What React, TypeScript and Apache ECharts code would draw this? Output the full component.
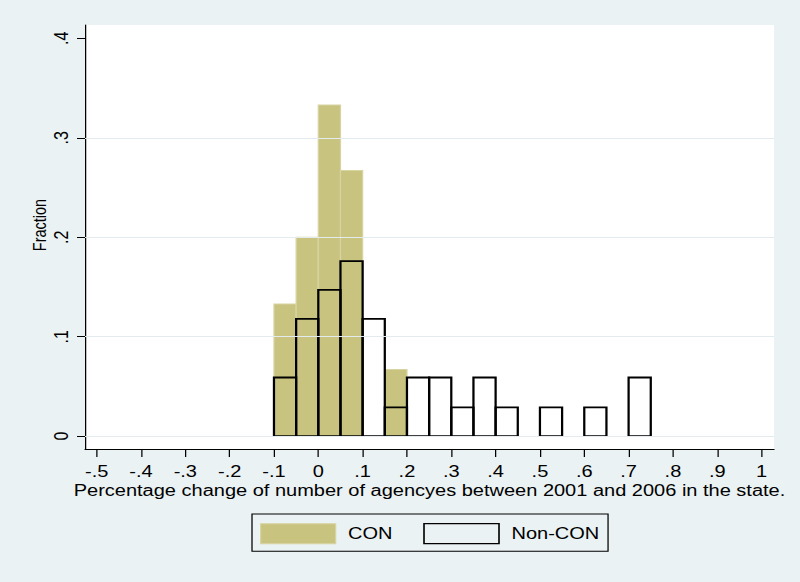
import React, { useEffect, useRef } from "react";
import * as echarts from "echarts";

// ---- data ----
const binStarts = [-0.1, -0.05, 0, 0.05, 0.1, 0.15, 0.2, 0.25, 0.3, 0.35, 0.4, 0.45, 0.5, 0.55, 0.6, 0.65, 0.7];
const binWidth = 0.05;
const conFraction = [0.133, 0.2, 0.333, 0.267, 0, 0.067, 0, 0, 0, 0, 0, 0, 0, 0, 0, 0, 0];
const nonConFraction = [0.059, 0.118, 0.147, 0.176, 0.118, 0.029, 0.059, 0.059, 0.029, 0.059, 0.029, 0, 0.029, 0, 0.029, 0, 0.059];
const seriesNames = ["CON", "Non-CON"];

const xTickValues = [-0.5, -0.4, -0.3, -0.2, -0.1, 0, 0.1, 0.2, 0.3, 0.4, 0.5, 0.6, 0.7, 0.8, 0.9, 1];
const xTickLabels = ["-.5", "-.4", "-.3", "-.2", "-.1", "0", ".1", ".2", ".3", ".4", ".5", ".6", ".7", ".8", ".9", "1"];
const yTickValues = [0, 0.1, 0.2, 0.3, 0.4];
const yTickLabels = ["0", ".1", ".2", ".3", ".4"];
const yGridValues = [0, 0.1, 0.2, 0.3];

const xTitle = "Percentage change of number of agencyes between 2001 and 2006 in the state.";
const yTitle = "Fraction";

// axis extents (plot region padding like Stata)
const xRange = [-0.5263, 1.028];
const yRange = [-0.0129, 0.4134];

// The reference's text is stretched horizontally; reproduce by scaling the chart in x.
const SX = 1.25;
const W = 800;
const H = 582;
const h = (px: number) => px / SX; // horizontal px in unscaled chart space

const FONT = "'Liberation Sans', Arial, Helvetica, sans-serif";
const FS = 16;
const BG = "#EAF2F3";
const CON_FILL = "#C8C37F";
const CON_EDGE = "#D8D4A2";

function lookup(values: number[], labels: string[], v: number) {
  const i = values.findIndex((t) => Math.abs(t - v) < 1e-9);
  return i >= 0 ? labels[i] : "";
}

function histItem(fill: string, stroke: string, lineWidth: number) {
  return (params: any, api: any) => {
    const x0 = api.value(0);
    const x1 = api.value(1);
    const y = api.value(2);
    if (!y) return null;
    const pTop = api.coord([x0, y]);
    const pBot = api.coord([x1, 0]);
    return {
      type: "rect",
      shape: { x: pTop[0], y: pTop[1], width: pBot[0] - pTop[0], height: pBot[1] - pTop[1] },
      style: { fill, stroke, lineWidth },
    };
  };
}

export default function App() {
  const ref = useRef<HTMLDivElement>(null);

  useEffect(() => {
    document.body.style.margin = "0";
    if (!ref.current) return;
    const chart = echarts.init(ref.current, null, { renderer: "svg" });

    const conData = binStarts.map((s, i) => [s, s + binWidth, conFraction[i]]);
    const nonConData = binStarts.map((s, i) => [s, s + binWidth, nonConFraction[i]]);

    chart.setOption({
      animation: false,
      backgroundColor: BG,
      textStyle: { fontFamily: FONT, color: "#000" },
      grid: {
        left: h(85),
        right: h(26),
        top: 25,
        bottom: 133,
        show: true,
        backgroundColor: "#ffffff",
        borderWidth: 0,
        containLabel: false,
      },
      xAxis: {
        type: "value",
        min: xRange[0],
        max: xRange[1],
        name: xTitle,
        nameLocation: "middle",
        nameGap: 34,
        nameMoveOverlap: false,
        nameTextStyle: { fontFamily: FONT, fontSize: FS, color: "#000" },
        axisLine: { show: true, onZero: false, lineStyle: { color: "#000", width: 1 } },
        axisTick: { show: true, length: 8, customValues: xTickValues, lineStyle: { color: "#000", width: 1 } },
        axisLabel: {
          customValues: xTickValues,
          margin: 15,
          fontFamily: FONT,
          fontSize: FS,
          color: "#000",
          formatter: (v: number) => lookup(xTickValues, xTickLabels, v),
        },
        splitLine: { show: false },
      },
      yAxis: {
        type: "value",
        min: yRange[0],
        max: yRange[1],
        name: yTitle,
        nameLocation: "middle",
        nameGap: 29,
        nameRotate: 90,
        nameMoveOverlap: false,
        nameTextStyle: { fontFamily: FONT, fontSize: 14.5, color: "#000", padding: [0, 0, 0, 24] },
        axisLine: { show: true, onZero: false, lineStyle: { color: "#000", width: 1 } },
        axisTick: { show: true, length: h(8), customValues: yTickValues, lineStyle: { color: "#000", width: 1 } },
        axisLabel: {
          customValues: yTickValues,
          rotate: 90,
          margin: 11,
          fontFamily: FONT,
          fontSize: FS,
          color: "#000",
          formatter: (v: number) => lookup(yTickValues, yTickLabels, v),
        },
        splitLine: { show: false },
      },
      legend: {
        show: true,
        left: h(252),
        top: 514,
        orient: "horizontal",
        itemWidth: h(75),
        itemHeight: 20,
        itemGap: 24.5,
        padding: [9, 7, 7, h(8)],
        borderColor: "#000",
        borderWidth: 1,
        backgroundColor: BG,
        textStyle: { fontFamily: FONT, fontSize: FS, color: "#000", padding: [0, 0, 0, 5] },
        data: [
          { name: seriesNames[0], icon: "rect", itemStyle: { color: CON_FILL, borderColor: CON_EDGE, borderWidth: 1 } },
          { name: seriesNames[1], icon: "rect", itemStyle: { color: "rgba(0,0,0,0)", borderColor: "#000", borderWidth: 1.3 } },
        ],
      },
      series: [
        {
          type: "line",
          name: "grid",
          data: [],
          z: 1,
          silent: true,
          markLine: {
            silent: true,
            symbol: ["none", "none"],
            label: { show: false },
            lineStyle: { color: "#E3EBEE", width: 1, type: "solid" },
            data: yGridValues.map((v) => ({ yAxis: v })),
          },
        },
        {
          type: "custom",
          name: seriesNames[0],
          z: 2,
          itemStyle: { color: CON_FILL },
          encode: { x: [0, 1], y: 2 },
          renderItem: histItem(CON_FILL, CON_EDGE, 1),
          data: conData,
        },
        {
          type: "custom",
          name: seriesNames[1],
          z: 3,
          itemStyle: { color: "#fff" },
          encode: { x: [0, 1], y: 2 },
          renderItem: histItem("rgba(0,0,0,0)", "#000", 1.8),
          data: nonConData,
        },
      ],
    });

    return () => chart.dispose();
  }, []);

  return (
    <div style={{ position: "absolute", left: 0, top: 0, width: W, height: H, overflow: "hidden", background: BG }}>
      <div
        ref={ref}
        style={{
          width: W / SX,
          height: H,
          transform: `scaleX(${SX})`,
          transformOrigin: "0 0",
        }}
      />
    </div>
  );
}
